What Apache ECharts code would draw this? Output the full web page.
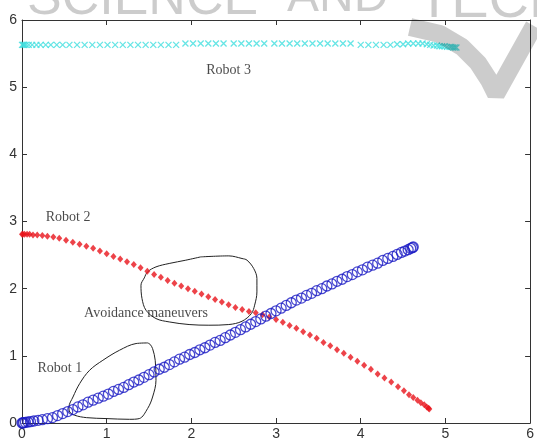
<!DOCTYPE html>
<html>
<head>
<meta charset="utf-8">
<script src="https://cdn.jsdelivr.net/npm/echarts@6/dist/echarts.min.js"></script>
<style>
html,body{margin:0;padding:0;background:#fff;}
#chart{width:537px;height:441px;}
</style>
</head>
<body>
<div id="chart"></div>
<script>
// Axis ticks
const xTicks = [0, 1, 2, 3, 4, 5, 6];
const yTicks = [0, 1, 2, 3, 4, 5, 6];

// Robot 1 trajectory (blue open circles)
const robot1 = [[0,0],[0.01,0],[0.02,0.005],[0.04,0.01],[0.07,0.015],[0.1,0.02],[0.14,0.03],[0.19,0.04],[0.24,0.05],[0.3,0.065],[0.36,0.08],[0.42,0.11],[0.48,0.14],[0.54,0.17],[0.6,0.2],[0.66,0.24],[0.72,0.27],[0.78,0.31],[0.84,0.34],[0.9,0.37],[0.96,0.4],[1.02,0.43],[1.08,0.47],[1.14,0.5],[1.2,0.53],[1.26,0.57],[1.32,0.61],[1.38,0.64],[1.44,0.68],[1.5,0.72],[1.56,0.76],[1.62,0.8],[1.68,0.83],[1.74,0.87],[1.8,0.91],[1.86,0.95],[1.92,0.98],[1.98,1.02],[2.04,1.05],[2.1,1.09],[2.16,1.12],[2.22,1.16],[2.28,1.2],[2.34,1.23],[2.4,1.27],[2.46,1.31],[2.52,1.35],[2.58,1.39],[2.64,1.43],[2.7,1.47],[2.76,1.51],[2.82,1.55],[2.88,1.59],[2.94,1.63],[3.0,1.67],[3.06,1.71],[3.12,1.75],[3.18,1.79],[3.24,1.83],[3.3,1.86],[3.36,1.9],[3.42,1.93],[3.48,1.97],[3.54,2.0],[3.6,2.04],[3.66,2.07],[3.72,2.11],[3.78,2.14],[3.84,2.18],[3.9,2.21],[3.96,2.25],[4.02,2.28],[4.08,2.32],[4.14,2.35],[4.2,2.38],[4.26,2.42],[4.32,2.45],[4.38,2.48],[4.43,2.51],[4.48,2.54],[4.52,2.56],[4.56,2.58],[4.59,2.6],[4.61,2.61],[4.62,2.62]];

// Robot 2 trajectory (red points)
const robot2 = [[0,2.81],[0.01,2.81],[0.03,2.81],[0.06,2.81],[0.09,2.81],[0.13,2.8],[0.18,2.8],[0.24,2.79],[0.3,2.78],[0.37,2.77],[0.44,2.75],[0.52,2.72],[0.6,2.69],[0.68,2.66],[0.76,2.63],[0.84,2.6],[0.92,2.56],[1.0,2.52],[1.08,2.48],[1.16,2.44],[1.24,2.4],[1.32,2.36],[1.4,2.31],[1.48,2.26],[1.56,2.21],[1.64,2.17],[1.72,2.12],[1.8,2.08],[1.88,2.04],[1.96,2.0],[2.04,1.96],[2.12,1.92],[2.2,1.88],[2.28,1.84],[2.36,1.8],[2.44,1.76],[2.52,1.72],[2.6,1.69],[2.68,1.66],[2.76,1.64],[2.84,1.61],[2.92,1.58],[3.0,1.54],[3.08,1.5],[3.16,1.45],[3.24,1.41],[3.32,1.36],[3.4,1.31],[3.48,1.26],[3.56,1.2],[3.64,1.15],[3.72,1.09],[3.8,1.04],[3.88,0.98],[3.96,0.92],[4.04,0.86],[4.12,0.8],[4.2,0.73],[4.28,0.67],[4.36,0.61],[4.44,0.54],[4.51,0.48],[4.57,0.42],[4.62,0.38],[4.67,0.34],[4.71,0.3],[4.75,0.27],[4.78,0.24],[4.8,0.22],[4.81,0.21]];

// Robot 3 trajectory (cyan crosses)
const robot3 = [[0,5.63],[0.01,5.63],[0.02,5.63],[0.03,5.63],[0.05,5.63],[0.08,5.63],[0.12,5.63],[0.17,5.63],[0.22,5.63],[0.28,5.63],[0.34,5.63],[0.41,5.63],[0.48,5.63],[0.56,5.63],[0.65,5.63],[0.74,5.63],[0.83,5.63],[0.92,5.63],[1.01,5.63],[1.1,5.63],[1.19,5.63],[1.28,5.63],[1.37,5.63],[1.46,5.63],[1.55,5.63],[1.64,5.63],[1.73,5.63],[1.82,5.63],[1.93,5.65],[2.02,5.65],[2.11,5.65],[2.2,5.65],[2.29,5.65],[2.38,5.65],[2.5,5.65],[2.59,5.65],[2.68,5.65],[2.77,5.65],[2.86,5.65],[2.98,5.65],[3.07,5.65],[3.16,5.65],[3.25,5.65],[3.34,5.65],[3.43,5.65],[3.52,5.65],[3.61,5.65],[3.7,5.65],[3.79,5.65],[3.88,5.65],[4.0,5.63],[4.09,5.63],[4.18,5.63],[4.27,5.63],[4.35,5.63],[4.43,5.64],[4.5,5.64],[4.56,5.65],[4.62,5.65],[4.68,5.65],[4.73,5.65],[4.78,5.64],[4.82,5.63],[4.86,5.62],[4.9,5.62],[4.93,5.61],[4.96,5.61],[4.99,5.61],[5.02,5.6],[5.05,5.6],[5.07,5.6],[5.09,5.59],[5.11,5.59],[5.13,5.59]];

// Hand-drawn loops (data coordinates)
const loop1 = [[1.483,1.192],[1.347,1.183],[1.151,1.083],[0.955,0.934],[0.798,0.785],[0.681,0.587],[0.602,0.387],[0.555,0.238],[0.564,0.164],[0.622,0.115],[0.760,0.080],[0.994,0.066],[1.268,0.055],[1.385,0.066],[1.483,0.215],[1.542,0.387],[1.582,0.636],[1.573,0.934],[1.542,1.108],[1.511,1.173],[1.483,1.192]];
const loop2 = [[2.110,2.473],[2.442,2.488],[2.598,2.449],[2.657,2.424],[2.736,2.300],[2.774,2.151],[2.774,1.952],[2.747,1.754],[2.709,1.630],[2.598,1.515],[2.442,1.466],[2.207,1.456],[1.973,1.466],[1.738,1.505],[1.582,1.555],[1.464,1.679],[1.417,1.853],[1.405,2.052],[1.444,2.160],[1.483,2.250],[1.582,2.324],[1.738,2.375],[1.934,2.424],[2.110,2.473]];

// Annotation texts
const annotationTexts = ['Robot 3', 'Robot 2', 'Avoidance maneuvers', 'Robot 1'];
const annotationPos = [[2.44,5.255],[0.544,3.06],[1.464,1.639],[0.446,0.81]];

const chart = echarts.init(document.getElementById('chart'), null, {renderer:'canvas'});

const axisCommon = {
  type: 'value', min: 0, max: 6, interval: 1,
  axisLine: {show: true, onZero: false, lineStyle: {color: '#333', width: 1}},
  axisTick: {show: true, inside: true, length: 5, lineStyle: {color: '#333'}},
  splitLine: {show: false}
};
const labelStyle = {color: '#333', fontSize: 14, fontFamily: 'Liberation Sans, Arial, sans-serif'};
const wmFill = 'rgba(0,0,0,0.2)';

const option = {
  animation: false,
  backgroundColor: '#fff',
  grid: {left: 22, right: 4, top: 20, bottom: 18, containLabel: false},
  xAxis: [
    Object.assign({}, axisCommon, {position: 'bottom', axisLabel: Object.assign({margin: 4, formatter: v => xTicks.includes(v) ? String(v) : ''}, labelStyle)}),
    Object.assign({}, axisCommon, {position: 'top', axisLabel: {show: false}})
  ],
  yAxis: [
    Object.assign({}, axisCommon, {position: 'left', axisLabel: Object.assign({margin: 5, formatter: v => yTicks.includes(v) ? String(v) : ''}, labelStyle)}),
    Object.assign({}, axisCommon, {position: 'right', axisLabel: {show: false}})
  ],
  series: [
    {
      type: 'line', data: loop1, showSymbol: false, smooth: 0.35, silent: true,
      lineStyle: {color: '#222', width: 1}, z: 2
    },
    {
      type: 'line', data: loop2, showSymbol: false, smooth: 0.35, silent: true,
      lineStyle: {color: '#222', width: 1}, z: 2
    },
    {
      type: 'scatter', data: robot3, symbol: 'path://M0,0L10,10M10,0L0,10', symbolSize: 6,
      itemStyle: {color: 'rgba(0,0,0,0)', borderColor: '#40dede', borderWidth: 1.3}, z: 3
    },
    {
      type: 'scatter', data: robot2, symbol: 'diamond', symbolSize: [6, 7],
      itemStyle: {color: '#e8141c'}, z: 4
    },
    {
      type: 'scatter', data: robot1, symbol: 'circle', symbolSize: 10,
      itemStyle: {color: 'rgba(0,0,0,0)', borderColor: '#1c1cc4', borderWidth: 1.3}, z: 5
    },
    {
      type: 'scatter', symbolSize: 0, silent: true, z: 6,
      data: annotationPos.map((p, i) => ({value: p, name: annotationTexts[i]})),
      label: {
        show: true, position: 'inside', formatter: p => p.name,
        color: '#1a1a1a', fontSize: 14, fontFamily: 'Liberation Serif, Times New Roman, serif'
      }
    }
  ],
  graphic: [
    {type: 'text', x: 27, y: -26, z: 100, silent: true,
     style: {text: 'SCIENCE', fill: wmFill, font: '52px "Liberation Sans", Arial, sans-serif'}},
    {type: 'text', x: 287, y: -26, z: 100, silent: true,
     style: {text: 'AND', fill: wmFill, font: '48px "Liberation Sans", Arial, sans-serif'}},
    {type: 'text', x: 417, y: -26, z: 100, silent: true,
     style: {text: 'TECH', fill: wmFill, font: '56px "Liberation Sans", Arial, sans-serif'}},
    {type: 'polyline', z: 100, silent: true,
     shape: {points: [[410,27],[440,34],[462,47],[478,63],[489,80],[496,94],[534,26]]},
     style: {fill: 'none', stroke: wmFill, lineWidth: 18, lineJoin: 'bevel'}}
  ]
};
chart.setOption(option);
</script>
</body>
</html>
